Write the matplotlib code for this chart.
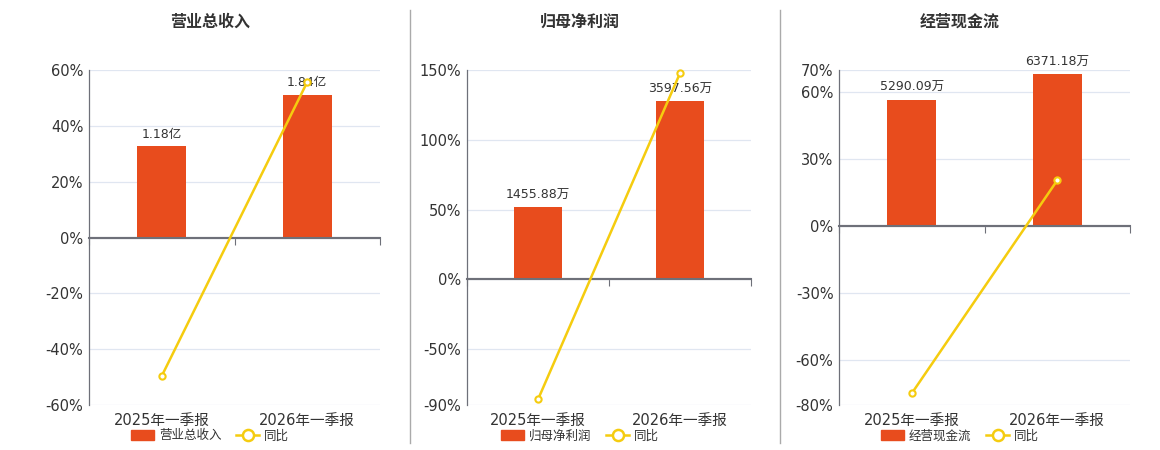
import matplotlib.pyplot as plt
from matplotlib.lines import Line2D
from matplotlib.patches import Patch

plt.rcParams['font.family'] = ['DejaVu Sans', 'Noto Sans CJK SC']

# 数据
periods = ['2025年一季报', '2026年一季报']
titles = ['营业总收入', '归母净利润', '经营现金流']
bar_values = [[1.18, 1.84], [1455.88, 3597.56], [5290.09, 6371.18]]
bar_labels = [['1.18亿', '1.84亿'], ['1455.88万', '3597.56万'], ['5290.09万', '6371.18万']]
yoy = [[-49.6, 55.7], [-86.0, 147.7], [-74.8, 20.6]]
pct_ticks = [[60, 40, 20, 0, -20, -40, -60],
             [150, 100, 50, 0, -50, -90],
             [70, 60, 30, 0, -30, -60, -80]]

BAR = '#e84c1d'
LINE = '#f5cc0f'
AXIS = '#6e7079'
GRID = '#e0e6f1'
TXT = '#333333'

W, H = 1160, 450
fig = plt.figure(figsize=(W / 100, H / 100), dpi=100)

# 画布布局 (像素)
lefts = [89, 467, 839]
widths = [291, 284, 291]
centers = [210, 580, 960]
bar_fill = [0.851, 0.852, 0.974]

for i in range(3):
    ax = fig.add_axes([lefts[i] / W, 1 - 405 / H, widths[i] / W, 335 / H])
    ax_b = ax.twinx()
    ax_l = ax.twinx()

    ticks = pct_ticks[i]
    lo, hi = min(ticks), max(ticks)
    ax.set_ylim(lo, hi)
    ax.set_yticks(ticks)
    ax.set_yticklabels([f'{t}%' for t in ticks], fontsize=10.5, color=TXT)
    ax.tick_params(axis='y', length=0, pad=4)
    ax.grid(axis='y', color=GRID, lw=0.9)
    ax.set_axisbelow(True)
    ax.set_xlim(-0.5, 1.5)
    for s in ['top', 'right']:
        ax.spines[s].set_visible(False)
    ax.spines['left'].set_color(AXIS)
    ax.spines['left'].set_linewidth(0.9)
    ax.spines['bottom'].set_position(('data', 0))
    ax.spines['bottom'].set_color(AXIS)
    ax.spines['bottom'].set_linewidth(1.5)
    ax.set_xticks([-0.5, 0.5, 1.5])
    ax.set_xticklabels([])
    ax.tick_params(axis='x', length=5, color=AXIS, direction='out')

    sec = ax.secondary_xaxis(0.0)
    sec.set_xticks([0, 1])
    sec.set_xticklabels(periods, fontsize=10.5, color=TXT)
    sec.tick_params(length=0, pad=6)
    sec.spines['bottom'].set_visible(False)

    # 柱子 (隐藏的副轴)
    top = max(bar_values[i]) / bar_fill[i]
    ax_b.set_ylim(top * lo / hi, top)
    bars = ax_b.bar(range(2), bar_values[i], width=0.34, color=BAR)
    ax_b.bar_label(bars, labels=bar_labels[i], padding=4, fontsize=9, color=TXT)
    ax_b.set_yticks([])
    for s in ax_b.spines.values():
        s.set_visible(False)

    # 同比线
    ax_l.set_ylim(lo, hi)
    ax_l.axhline(0, color=AXIS, lw=1.5)
    ax_l.plot(range(2), yoy[i], color=LINE, lw=1.8, marker='o', ms=4.5,
              mfc='white', mec=LINE, mew=1.5, clip_on=False)
    ax_l.set_yticks([])
    for s in ax_l.spines.values():
        s.set_visible(False)

    fig.text(centers[i] / W, 1 - 22 / H, titles[i], ha='center', va='center',
             fontsize=11.5, fontweight='bold', color=TXT)

    handles = [Patch(facecolor=BAR, edgecolor=BAR),
               Line2D([], [], color=LINE, lw=1.8, marker='o', ms=8,
                      mfc='white', mec=LINE, mew=1.8)]
    fig.legend(handles, [titles[i], '同比'], loc='center',
               bbox_to_anchor=(centers[i] / W, 1 - 436 / H), ncol=2,
               frameon=False, fontsize=9, handlelength=1.8, handleheight=0.9,
               columnspacing=1.2, handletextpad=0.4, labelcolor=TXT)

# 分隔线
for x in [410, 780]:
    fig.add_artist(Line2D([x / W, x / W], [1 - 10 / H, 1 - 443 / H],
                          color='#aaaaaa', lw=1))

fig.savefig('out.png', dpi=100)
